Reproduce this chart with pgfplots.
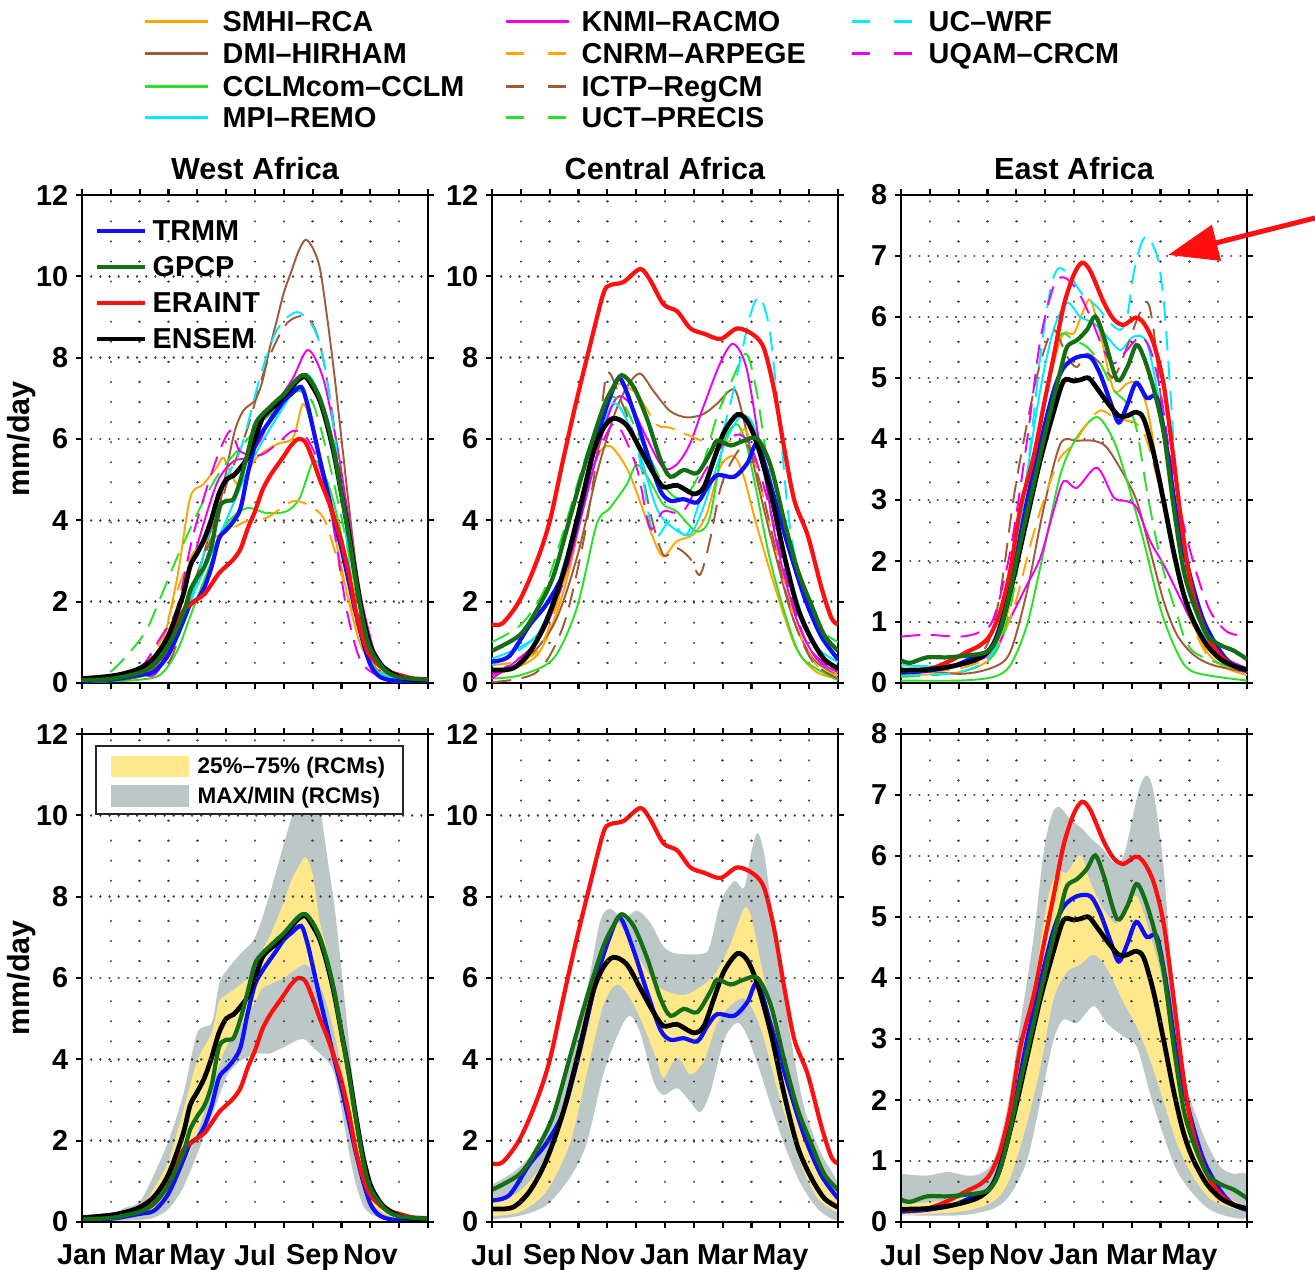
\documentclass[border=0pt]{standalone}
\usepackage{fontspec}
\setmainfont{Liberation Sans}
\usepackage{pgfplots}
\pgfplotsset{compat=1.18}
\usepackage{pgfplotstable}
\usetikzlibrary{arrows.meta}

\definecolor{cOrange}{RGB}{255,165,0}
\definecolor{cBrown}{RGB}{160,90,55}
\definecolor{cGreen}{RGB}{40,225,40}
\definecolor{cCyan}{RGB}{0,235,255}
\definecolor{cMagenta}{RGB}{240,0,240}
\definecolor{cBlue}{RGB}{15,15,255}
\definecolor{cDkGreen}{RGB}{20,110,20}
\definecolor{cRed}{RGB}{255,15,15}
\definecolor{cYellow}{RGB}{255,232,140}
\definecolor{cGray}{RGB}{188,200,200}

\newcommand{\tickfont}{\bfseries\fontsize{8.2}{9}\selectfont}
\newcommand{\titlefont}{\bfseries\fontsize{8.7}{10}\selectfont}
\newcommand{\legfont}{\bfseries\fontsize{8.2}{9}\selectfont}
\newcommand{\smallleg}{\bfseries\fontsize{6.4}{7}\selectfont}

\pgfplotsset{
  panel/.style={scale only axis, width=3.46cm, height=4.88cm,
    xmin=0, xmax=12, xtick={0,...,12}, ymin=0,
    tick align=outside, major tick length=0.06cm,
    axis line style={line width=0.7pt},
    every tick/.append style={line width=0.6pt, black},
    grid=major,
    x grid style={black!75, line width=0.7pt, line cap=round, dash pattern=on 0.01pt off 5.7pt},
    y grid style={black!75, line width=0.7pt, line cap=round, dash pattern=on 0.01pt off 2.6pt},
    tick label style={font=\tickfont},
    yticklabel style={xshift=0.045cm},
    xticklabel style={yshift=-0.04cm},
    /pgf/number format/assume math mode=true,
    title style={at={(0.5,1)}, anchor=base, yshift=-0.06cm, font=\titlefont},
    ylabel style={at={(axis description cs:-0.175,0.5)}, anchor=center, font=\titlefont},
  },
  big/.style={ymax=12, ytick={0,2,...,12}},
  small/.style={ymax=8, ytick={0,...,8}},
  toprow/.style={xticklabels={}},
  botW/.style={xticklabels={Jan,,Mar,,May,,Jul,,Sep,,Nov,,}},
  botC/.style={xticklabels={Jul,,Sep,,Nov,,Jan,,Mar,,May,,}},
  mdl/.style={line width=0.55pt, smooth, tension=0.5},
  obs/.style={line width=1.2pt, smooth, tension=0.5},
  dsh/.style={dash pattern=on 5.5pt off 3pt},
  band/.style={draw=none, smooth, tension=0.5, forget plot},
}

% ---------------- observations ----------------
\pgfplotstableread[row sep=\\]{m v\\
0 0.05\\ 1 0.08\\ 2 0.2\\ 2.5 0.28\\ 3 0.7\\ 3.5 1.5\\ 3.75 1.93\\ 4 2.06\\ 4.25 2.36\\ 4.5 2.87\\ 4.75 3.55\\ 5 3.76\\ 5.25 3.97\\ 5.5 4.3\\ 5.75 5.15\\ 6 5.84\\ 6.25 6.17\\ 6.5 6.43\\ 6.75 6.68\\ 7 6.94\\ 7.25 7.1\\ 7.6 7.28\\ 7.8 6.9\\ 8 6.3\\ 8.25 5.5\\ 8.5 4.75\\ 8.75 4.0\\ 9 3.3\\ 9.25 2.5\\ 9.5 1.7\\ 9.75 1.0\\ 10 0.45\\ 10.25 0.2\\ 10.5 0.1\\ 11 0.04\\ 12 0.02\\
}\waTRMM
\pgfplotstableread[row sep=\\]{m v\\
0 0.07\\ 1 0.1\\ 2 0.25\\ 2.5 0.45\\ 3 0.92\\ 3.5 1.68\\ 3.75 2.27\\ 4 2.6\\ 4.25 2.87\\ 4.5 3.38\\ 4.75 4.3\\ 5 4.48\\ 5.25 4.52\\ 5.5 5.0\\ 5.75 5.67\\ 6 6.35\\ 6.25 6.6\\ 6.5 6.77\\ 6.75 6.94\\ 7 7.1\\ 7.5 7.5\\ 7.75 7.57\\ 8 7.36\\ 8.25 7.0\\ 8.5 6.43\\ 8.75 5.67\\ 9 4.65\\ 9.25 3.63\\ 9.5 2.53\\ 9.75 1.5\\ 10 0.83\\ 10.5 0.32\\ 11 0.14\\ 12 0.08\\
}\waGPCP
\pgfplotstableread[row sep=\\]{m v\\
0 0.12\\ 1 0.15\\ 1.5 0.2\\ 2 0.3\\ 2.5 0.45\\ 3 0.92\\ 3.5 1.76\\ 3.75 1.93\\ 4 2.06\\ 4.25 2.19\\ 4.5 2.44\\ 4.75 2.7\\ 5 2.87\\ 5.25 3.04\\ 5.5 3.3\\ 5.75 3.8\\ 6 4.22\\ 6.25 4.73\\ 6.5 5.07\\ 6.75 5.33\\ 7 5.58\\ 7.25 5.84\\ 7.5 6.0\\ 7.75 5.92\\ 8 5.5\\ 8.25 5.0\\ 8.5 4.56\\ 8.75 4.05\\ 9 3.46\\ 9.25 2.7\\ 9.5 1.76\\ 9.75 1.09\\ 10 0.66\\ 10.5 0.32\\ 11 0.2\\ 11.5 0.11\\ 12 0.1\\
}\waERA
\pgfplotstableread[row sep=\\]{m v\\
0 0.1\\ 1 0.17\\ 1.5 0.24\\ 2 0.36\\ 2.5 0.62\\ 3 1.17\\ 3.5 2.15\\ 3.75 2.87\\ 4 3.2\\ 4.25 3.55\\ 4.5 4.05\\ 4.75 4.65\\ 5 5.0\\ 5.25 5.1\\ 5.5 5.3\\ 5.75 5.55\\ 6 6.0\\ 6.25 6.5\\ 6.5 6.7\\ 6.75 6.85\\ 7 7.05\\ 7.25 7.25\\ 7.5 7.45\\ 7.75 7.53\\ 8 7.28\\ 8.25 6.94\\ 8.5 6.35\\ 8.75 5.6\\ 9 4.65\\ 9.25 3.7\\ 9.5 2.6\\ 9.75 1.6\\ 10 0.92\\ 10.25 0.58\\ 10.5 0.36\\ 11 0.15\\ 11.5 0.08\\ 12 0.07\\
}\waENS

\pgfplotstableread[row sep=\\]{m v\\
0 0.53\\ 0.6 0.66\\ 1.3 1.42\\ 1.88 1.93\\ 2.47 2.7\\ 3.05 4.22\\ 3.63 6.0\\ 4.09 7.02\\ 4.44 7.49\\ 4.91 6.68\\ 5.37 5.67\\ 5.84 4.73\\ 6.19 4.48\\ 6.65 4.52\\ 7.12 4.44\\ 7.47 4.82\\ 7.81 5.11\\ 8.4 5.07\\ 8.86 5.41\\ 9.21 5.88\\ 9.67 4.85\\ 10.26 3.4\\ 10.84 2.1\\ 11.42 1.15\\ 12 0.58\\
}\caTRMM
\pgfplotstableread[row sep=\\]{m v\\
0 0.79\\ 0.95 1.17\\ 1.53 1.76\\ 2.12 2.61\\ 2.7 4.05\\ 3.28 5.5\\ 3.86 6.77\\ 4.21 7.28\\ 4.5 7.57\\ 4.91 7.28\\ 5.37 6.51\\ 5.84 5.5\\ 6.19 5.07\\ 6.65 5.24\\ 7.12 5.16\\ 7.58 5.67\\ 7.81 5.96\\ 8.28 5.84\\ 8.74 5.96\\ 9.21 6.0\\ 9.67 5.33\\ 10.14 3.97\\ 10.6 2.78\\ 11.07 1.93\\ 11.53 1.17\\ 12 0.79\\
}\caGPCP
\pgfplotstableread[row sep=\\]{m v\\
0 1.44\\ 0.37 1.47\\ 0.95 2.02\\ 1.53 2.95\\ 2.0 3.97\\ 2.47 5.5\\ 2.93 6.94\\ 3.4 8.3\\ 3.86 9.57\\ 4.09 9.78\\ 4.56 9.86\\ 5.14 10.18\\ 5.49 9.9\\ 5.95 9.31\\ 6.42 9.14\\ 6.88 8.72\\ 7.35 8.59\\ 7.93 8.46\\ 8.51 8.72\\ 9.09 8.55\\ 9.44 8.21\\ 9.79 7.19\\ 10.14 5.75\\ 10.49 4.48\\ 10.95 3.63\\ 11.42 2.36\\ 11.77 1.6\\ 12 1.44\\
}\caERA
\pgfplotstableread[row sep=\\]{m v\\
0 0.32\\ 0.72 0.36\\ 1.3 0.75\\ 1.88 1.51\\ 2.47 2.7\\ 3.05 4.31\\ 3.51 5.67\\ 3.86 6.26\\ 4.21 6.51\\ 4.67 6.34\\ 5.14 5.75\\ 5.6 5.16\\ 5.95 4.82\\ 6.42 4.86\\ 7.0 4.65\\ 7.35 4.82\\ 7.7 5.5\\ 8.05 6.17\\ 8.51 6.6\\ 8.86 6.43\\ 9.21 5.84\\ 9.67 4.65\\ 10.14 3.12\\ 10.6 1.85\\ 11.07 1.09\\ 11.53 0.58\\ 12 0.36\\
}\caENS

\pgfplotstableread[row sep=\\]{m v\\
0 0.17\\ 0.9 0.2\\ 1.83 0.28\\ 2.64 0.45\\ 3.1 0.56\\ 3.45 0.96\\ 3.91 1.85\\ 4.37 2.98\\ 4.83 3.93\\ 5.29 4.78\\ 5.64 5.17\\ 6.1 5.34\\ 6.57 5.34\\ 6.91 5.06\\ 7.26 4.61\\ 7.55 4.27\\ 7.84 4.55\\ 8.16 4.92\\ 8.53 4.67\\ 8.88 4.67\\ 9.23 3.82\\ 9.57 2.7\\ 10.03 1.74\\ 10.5 1.01\\ 11.08 0.51\\ 11.54 0.28\\ 12 0.2\\
}\eaTRMM
\pgfplotstableread[row sep=\\]{m v\\
0 0.37\\ 0.32 0.33\\ 0.9 0.42\\ 1.6 0.42\\ 2.29 0.45\\ 2.98 0.51\\ 3.33 0.73\\ 3.68 1.29\\ 4.14 2.3\\ 4.6 3.26\\ 5.06 4.22\\ 5.53 5.12\\ 5.76 5.51\\ 6.1 5.62\\ 6.45 5.79\\ 6.74 6.01\\ 7.03 5.68\\ 7.49 4.97\\ 7.84 5.17\\ 8.16 5.54\\ 8.42 5.34\\ 8.76 4.83\\ 9.11 4.1\\ 9.46 2.87\\ 9.8 1.85\\ 10.15 1.29\\ 10.61 0.79\\ 11.08 0.62\\ 11.54 0.53\\ 12 0.39\\
}\eaGPCP
\pgfplotstableread[row sep=\\]{m v\\
0 0.2\\ 0.9 0.22\\ 1.6 0.34\\ 2.29 0.51\\ 2.75 0.62\\ 3.1 0.79\\ 3.45 1.18\\ 3.79 1.85\\ 4.14 2.87\\ 4.6 3.71\\ 4.95 4.55\\ 5.29 5.34\\ 5.64 6.18\\ 5.99 6.69\\ 6.28 6.89\\ 6.57 6.75\\ 7.03 6.24\\ 7.38 5.96\\ 7.72 5.87\\ 8.13 5.99\\ 8.42 5.9\\ 8.76 5.57\\ 9.11 4.89\\ 9.46 3.65\\ 9.8 2.36\\ 10.15 1.41\\ 10.61 0.79\\ 11.08 0.45\\ 11.54 0.28\\ 12 0.22\\
}\eaERA
\pgfplotstableread[row sep=\\]{m v\\
0 0.21\\ 0.9 0.22\\ 1.83 0.28\\ 2.64 0.39\\ 3.1 0.56\\ 3.45 0.9\\ 3.91 1.74\\ 4.37 2.7\\ 4.83 3.65\\ 5.29 4.44\\ 5.64 4.95\\ 5.99 4.95\\ 6.22 4.97\\ 6.51 5.0\\ 6.8 4.83\\ 7.14 4.61\\ 7.55 4.38\\ 7.84 4.38\\ 8.16 4.44\\ 8.42 4.33\\ 8.76 3.77\\ 9.11 2.98\\ 9.46 2.14\\ 9.8 1.46\\ 10.15 1.01\\ 10.61 0.62\\ 11.08 0.39\\ 11.54 0.28\\ 12 0.22\\
}\eaENS

\begin{document}
\begin{tikzpicture}
\path[use as bounding box] (0,0) rectangle (13.15,12.70);

% ================= West Africa, models =================
\begin{axis}[panel, big, toprow, at={(0.82cm,5.87cm)}, anchor=south west,
  title={West Africa}, ylabel={mm/day}]
\addplot[mdl, cOrange] coordinates {(0,0.05)(1,0.1)(2,0.3)(2.7,0.77)(3.3,2.58)(3.75,4.55)(4.2,4.88)(4.67,5.3)(4.9,5.54)(5.2,5.1)(5.48,4.88)(6.06,5.54)(6.75,5.87)(7.32,6.03)(7.67,6.86)(8.02,6.2)(8.48,4.7)(9.05,2.66)(9.63,1.0)(10.21,0.35)(11,0.08)(12,0.04)};
\addplot[mdl, cBrown] coordinates {(0,0.02)(1,0.05)(2,0.15)(2.5,0.35)(3,0.7)(3.5,1.5)(4,2.6)(4.4,3.6)(4.75,4.3)(5,5.2)(5.3,6.2)(5.6,6.7)(6,6.95)(6.25,7.4)(6.5,8.2)(6.75,8.9)(7,9.6)(7.25,10.1)(7.5,10.6)(7.75,10.9)(8,10.7)(8.25,10.2)(8.5,9.0)(8.75,7.6)(9,6.0)(9.25,4.4)(9.5,2.9)(9.75,1.8)(10,1.0)(10.5,0.35)(11,0.1)(12,0.03)};
\addplot[mdl, cGreen] coordinates {(0,0.02)(1,0.04)(2,0.08)(2.71,0.2)(3.29,0.77)(3.86,1.84)(4.44,2.9)(5.02,3.9)(5.71,4.3)(6.4,4.18)(7.09,4.22)(7.55,4.55)(8.02,5.45)(8.36,5.2)(8.71,4.5)(9.17,3.07)(9.63,1.42)(10.21,0.35)(11,0.06)(12,0.02)};
\addplot[mdl, cCyan] coordinates {(0,0.04)(1,0.08)(2,0.2)(3,0.8)(4,2.4)(5,4.0)(6,5.6)(7,6.8)(7.8,7.6)(8.5,6.5)(9,4.5)(9.5,2.4)(10,0.9)(10.5,0.3)(11,0.1)(12,0.05)};
\addplot[mdl, cMagenta] coordinates {(0,0.04)(1,0.08)(2,0.2)(2.71,0.4)(3.86,3.07)(4.67,4.9)(5.25,5.45)(5.71,5.54)(6.17,5.95)(6.75,6.86)(7.32,7.5)(7.84,8.19)(8.36,7.5)(8.82,5.95)(9.28,3.9)(9.63,2.25)(10.21,0.6)(10.7,0.2)(11.5,0.06)(12,0.04)};
\addplot[mdl, dsh, cOrange] coordinates {(0,0.04)(1,0.1)(2,0.3)(2.71,1.0)(3.29,2.25)(3.86,3.2)(4.56,3.56)(5.02,3.73)(5.71,3.98)(6.4,4.06)(7.32,4.47)(8.02,4.3)(8.48,3.9)(9.17,2.25)(9.86,0.77)(10.32,0.35)(11,0.1)(12,0.04)};
\addplot[mdl, dsh, cBrown] coordinates {(0,0.03)(1,0.06)(2,0.15)(3,0.5)(3.5,1.5)(4,2.7)(4.67,3.9)(5.02,4.9)(5.71,6.2)(6.4,7.84)(7.09,8.83)(7.79,9.0)(8.25,8.34)(8.71,6.5)(9.17,3.9)(9.63,1.6)(10,0.6)(10.5,0.2)(11,0.08)(12,0.03)};
\addplot[mdl, dsh, cGreen] coordinates {(0,0.05)(0.98,0.27)(2.13,1.18)(2.71,2.08)(3.29,3.07)(4.09,4.3)(4.79,5.2)(5.59,5.87)(6.4,6.53)(7.09,7.0)(7.55,7.18)(8.02,6.86)(8.48,5.7)(9.05,3.9)(9.63,1.84)(10.21,0.6)(10.8,0.2)(11.5,0.08)(12,0.05)};
\addplot[mdl, dsh, cCyan] coordinates {(0,0.04)(1,0.08)(2,0.3)(3,1.0)(3.86,2.25)(4.79,4.7)(5.48,5.7)(6.17,7.5)(6.75,8.67)(7.44,9.12)(8.02,8.75)(8.36,8.0)(8.71,6.4)(9.05,4.3)(9.4,2.25)(9.8,0.9)(10.3,0.3)(11,0.08)(12,0.04)};
\addplot[mdl, dsh, cMagenta] coordinates {(0,0.05)(1,0.1)(2,0.35)(2.71,1.1)(3.29,1.84)(3.86,3.65)(4.56,5.3)(5.13,6.2)(5.48,5.7)(6.17,5.6)(6.75,5.87)(7.32,6.2)(7.79,6.03)(8.25,5.3)(8.71,3.9)(9.17,1.84)(9.63,0.6)(10.2,0.2)(11,0.07)(12,0.04)};
\addplot[obs, cBlue] table[x=m,y=v]{\waTRMM};
\addplot[obs, cRed] table[x=m,y=v]{\waERA};
\addplot[obs, line width=1.35pt, black] table[x=m,y=v]{\waENS};
\addplot[obs, cDkGreen] table[x=m,y=v]{\waGPCP};
\end{axis}

% ================= Central Africa, models =================
\begin{axis}[panel, big, toprow, at={(4.92cm,5.87cm)}, anchor=south west,
  title={Central Africa}]
\addplot[mdl, cOrange] coordinates {(0,0.19)(1.56,0.68)(2.48,2.25)(3.17,4.3)(3.63,5.54)(4.09,5.83)(4.67,5.29)(5.13,4.47)(5.59,3.56)(5.94,3.11)(6.4,3.48)(6.98,3.65)(7.44,4.14)(7.9,5.29)(8.36,5.58)(8.71,5.13)(9.17,3.9)(9.86,2.25)(10.55,0.85)(11.25,0.27)(12,0.11)};
\addplot[mdl, cBrown] coordinates {(0,0.27)(0.98,0.44)(2.13,1.42)(2.94,3.07)(3.63,5.13)(4.21,6.53)(4.67,7.27)(5.13,7.61)(5.59,7.19)(6.17,6.69)(6.75,6.53)(7.32,6.61)(7.79,6.86)(8.25,7.19)(8.48,7.14)(8.82,6.2)(9.28,4.72)(9.86,3.07)(10.44,1.59)(11.13,0.6)(12,0.19)};
\addplot[mdl, cGreen] coordinates {(0,0.11)(0.98,0.19)(2.13,0.6)(2.94,1.84)(3.63,3.9)(4.09,4.3)(4.67,4.88)(5.02,5.37)(5.48,4.96)(5.94,4.39)(6.4,4.22)(7.09,3.73)(7.55,4.06)(8.02,5.87)(8.48,6.36)(8.82,5.87)(9.17,4.72)(9.63,3.07)(10.21,1.59)(10.78,0.6)(12,0.07)};
\addplot[mdl, cCyan] coordinates {(0,0.6)(1.56,1.18)(2.48,2.82)(3.17,4.72)(3.86,6.36)(4.33,6.86)(5.02,5.87)(5.71,4.3)(6.29,3.81)(6.86,3.65)(7.32,4.3)(8.02,5.79)(8.59,6.53)(9.05,6.36)(9.63,4.88)(10.32,2.66)(11.13,1.01)(12,0.52)};
\addplot[mdl, cMagenta] coordinates {(0,0.11)(1.56,1.01)(2.48,2.49)(3.17,4.3)(3.86,6.2)(4.33,7.02)(4.79,6.86)(5.36,6.03)(5.94,5.29)(6.4,5.37)(6.86,5.87)(7.32,6.77)(7.9,7.84)(8.36,8.34)(8.82,7.76)(9.28,5.87)(9.86,3.48)(10.55,1.59)(11.25,0.6)(12,0.27)};
\addplot[mdl, dsh, cOrange] coordinates {(0,0.44)(1.56,0.77)(2.48,2.49)(3.17,4.72)(3.86,6.77)(4.33,7.35)(5.02,7.1)(5.71,6.36)(6.17,6.28)(6.75,6.11)(7.32,5.95)(7.9,5.87)(8.48,6.03)(8.82,6.2)(9.28,4.96)(9.86,3.23)(10.55,1.42)(11.25,0.44)(12,0.19)};
\addplot[mdl, dsh, cBrown] coordinates {(0,0.02)(1.56,0.27)(2.48,1.42)(3.17,3.48)(3.63,5.54)(3.98,7.6)(4.44,7.0)(5.02,5.87)(5.48,4.22)(5.94,3.15)(6.4,3.32)(6.86,3.07)(7.21,2.66)(7.55,3.48)(7.9,4.72)(8.25,5.37)(8.82,5.87)(9.28,4.96)(9.86,3.23)(10.44,1.59)(11.13,0.52)(12,0.11)};
\addplot[mdl, dsh, cGreen] coordinates {(0,1.01)(0.98,1.42)(1.79,2.25)(2.48,3.73)(3.06,5.13)(3.63,6.36)(4.09,7.02)(4.56,6.86)(5.02,6.2)(5.48,5.54)(5.94,4.88)(6.4,4.55)(6.86,4.72)(7.32,5.37)(7.79,6.53)(8.36,7.51)(8.82,8.09)(9.17,7.19)(9.63,5.13)(10.21,3.48)(10.78,2.25)(11.36,1.34)(12,1.01)};
\addplot[mdl, dsh, cCyan] coordinates {(0,0.44)(1.56,1.18)(2.48,2.9)(3.17,4.72)(3.86,6.53)(4.33,6.86)(5.02,5.87)(5.59,3.65)(6.17,3.98)(6.75,3.65)(7.32,4.72)(8.02,6.2)(8.48,7.51)(8.94,9.0)(9.28,9.49)(9.63,8.67)(9.98,6.36)(10.32,3.9)(10.78,2.25)(11.36,1.18)(12,0.6)};
\addplot[mdl, dsh, cMagenta] coordinates {(0,0.19)(1.56,1.01)(2.48,2.66)(3.17,4.55)(3.86,5.95)(4.33,6.36)(5.02,5.29)(5.48,3.81)(5.94,4.22)(6.63,4.22)(7.32,5.13)(8.02,5.87)(8.59,6.11)(9.05,5.7)(9.63,4.3)(10.32,2.25)(11.01,0.85)(12,0.27)};
\addplot[obs, cBlue] table[x=m,y=v]{\caTRMM};
\addplot[obs, cRed] table[x=m,y=v]{\caERA};
\addplot[obs, line width=1.35pt, black] table[x=m,y=v]{\caENS};
\addplot[obs, cDkGreen] table[x=m,y=v]{\caGPCP};
\end{axis}

% ================= East Africa, models =================
\begin{axis}[panel, small, toprow, at={(9.01cm,5.87cm)}, anchor=south west,
  title={East Africa}]
\addplot[mdl, cOrange] coordinates {(0,0.13)(2.06,0.18)(3.21,0.46)(3.79,1.34)(4.37,2.87)(4.83,4.25)(5.29,5.24)(5.64,5.73)(5.99,5.73)(6.34,6.12)(6.57,6.28)(6.91,5.73)(7.38,4.8)(7.84,4.91)(8.18,4.91)(8.53,4.52)(8.88,3.59)(9.34,2.32)(9.92,1.23)(10.61,0.51)(11.31,0.24)(12,0.13)};
\addplot[mdl, cBrown] coordinates {(0,0.24)(2.06,0.15)(3.21,0.26)(3.79,0.51)(4.37,1.5)(4.95,2.87)(5.53,3.92)(6.1,3.97)(6.68,3.97)(7.14,3.86)(7.72,3.42)(8.18,2.98)(8.65,2.16)(9.11,1.34)(9.57,0.79)(10.15,0.46)(10.84,0.29)(12,0.18)};
\addplot[mdl, cGreen] coordinates {(0,0.04)(2.06,0.04)(3.21,0.1)(3.79,0.29)(4.37,0.95)(4.95,2.16)(5.53,3.42)(6.1,4.03)(6.8,4.36)(7.38,3.97)(7.84,3.31)(8.42,2.32)(8.99,1.23)(9.57,0.51)(10.15,0.18)(12,0.04)};
\addplot[mdl, cCyan] coordinates {(0,0.29)(2.06,0.29)(3.21,0.57)(3.79,1.5)(4.37,3.42)(4.83,4.8)(5.29,5.79)(5.76,6.23)(6.22,6.0)(6.68,5.9)(7.14,5.68)(7.61,5.46)(8.07,5.68)(8.53,5.57)(8.99,4.52)(9.46,3.15)(9.92,2.05)(10.5,1.06)(11.31,0.4)(12,0.24)};
\addplot[mdl, cMagenta] coordinates {(0,0.18)(2.06,0.29)(3.21,0.51)(3.79,1.06)(4.37,1.61)(4.83,2.05)(5.29,2.82)(5.64,3.31)(6.1,3.2)(6.8,3.53)(7.38,3.04)(7.84,2.98)(8.18,2.87)(8.65,2.32)(9.11,1.94)(9.57,1.5)(10.15,0.95)(10.84,0.51)(12,0.24)};
\addplot[mdl, dsh, cOrange] coordinates {(0,0.15)(2.06,0.24)(3.21,0.51)(3.91,1.23)(4.49,2.27)(4.83,2.82)(5.18,3.31)(5.53,3.7)(5.99,3.92)(6.45,4.25)(6.91,4.47)(7.38,4.36)(7.84,4.3)(8.18,4.25)(8.53,3.97)(8.99,3.15)(9.46,2.05)(10.03,1.06)(10.73,0.4)(12,0.18)};
\addplot[mdl, dsh, cBrown] coordinates {(0,0.18)(2.06,0.29)(2.98,0.62)(3.45,1.5)(3.91,3.04)(4.37,4.25)(4.83,5.24)(5.29,5.79)(5.76,5.35)(6.1,5.18)(6.45,5.4)(6.91,5.24)(7.38,5.02)(7.84,5.51)(8.18,5.95)(8.53,6.25)(8.76,5.79)(9.11,4.25)(9.46,2.87)(9.92,1.77)(10.5,0.84)(11.31,0.29)(12,0.18)};
\addplot[mdl, dsh, cGreen] coordinates {(0,0.1)(2.06,0.18)(3.21,0.46)(3.79,1.23)(4.37,2.82)(4.83,4.14)(5.29,5.35)(5.58,5.73)(5.99,5.62)(6.45,5.51)(6.91,5.24)(7.38,4.8)(7.84,4.58)(8.18,4.14)(8.53,3.15)(8.99,2.05)(9.57,1.12)(10.15,0.51)(12,0.18)};
\addplot[mdl, dsh, cCyan] coordinates {(0,0.13)(2.06,0.18)(3.21,0.51)(3.79,1.5)(4.37,3.42)(4.83,5.35)(5.18,6.45)(5.47,6.8)(5.87,6.66)(6.34,6.34)(6.8,6.17)(7.26,5.9)(7.61,5.79)(7.84,6.0)(8.07,6.72)(8.3,7.16)(8.53,7.32)(8.88,7.0)(9.11,6.28)(9.34,4.8)(9.57,3.15)(9.92,1.77)(10.38,0.95)(11.08,0.4)(12,0.18)};
\addplot[mdl, dsh, cMagenta] coordinates {(0,0.76)(0.9,0.79)(2.06,0.76)(2.75,0.84)(3.21,1.06)(3.79,2.16)(4.37,3.97)(4.83,5.62)(5.29,6.5)(5.64,6.65)(6.1,6.45)(6.57,6.0)(7.03,5.46)(7.38,5.24)(7.84,5.46)(8.3,5.68)(8.65,5.46)(8.99,4.8)(9.34,3.7)(9.8,2.6)(10.27,1.77)(10.73,1.17)(11.31,0.84)(12,0.76)};
\addplot[obs, cBlue] table[x=m,y=v]{\eaTRMM};
\addplot[obs, cRed] table[x=m,y=v]{\eaERA};
\addplot[obs, line width=1.35pt, black] table[x=m,y=v]{\eaENS};
\addplot[obs, cDkGreen] table[x=m,y=v]{\eaGPCP};
\end{axis}

% ================= West Africa, spread (max/min, then 25-75 %) =================
\begin{axis}[panel, big, botW, axis on top, at={(0.82cm,0.48cm)}, anchor=south west,
  ylabel={mm/day}]
\addplot[band, fill=cGray] coordinates {(0,0.1)(1,0.2)(1.5,0.35)(2,0.5)(2.5,1.17)(3,2.0)(3.5,3.1)(4,4.65)(4.5,4.9)(4.75,5.84)(5,6.17)(5.5,6.6)(6,7.0)(6.5,8.04)(7,9.3)(7.25,9.9)(7.5,10.5)(7.75,10.9)(8,10.7)(8.25,10.2)(8.5,9.0)(8.75,7.8)(9,6.2)(9.25,4.5)(9.5,2.8)(9.75,1.8)(10,1.0)(10.5,0.35)(11,0.15)(12,0.1)
 (12,0.01)(11,0.02)(10.5,0.07)(10,0.2)(9.75,0.41)(9.5,0.92)(9.25,1.76)(9,2.78)(8.75,3.63)(8.5,3.97)(8,4.3)(7.75,4.48)(7.5,4.48)(7,4.3)(6.75,4.22)(6.5,4.14)(6,4.14)(5.75,4.05)(5.5,3.97)(5.25,3.8)(5,3.55)(4.5,2.6)(4,1.68)(3.5,0.83)(3,0.32)(2.5,0.11)(2,0.05)(1,0.02)(0,0.0)};
\addplot[band, fill=cYellow] coordinates {(0,0.08)(1,0.15)(2,0.35)(2.5,0.83)(3,1.5)(3.5,2.7)(4,3.97)(4.5,4.65)(4.75,5.41)(5,5.58)(5.5,5.84)(6,6.17)(6.25,6.68)(6.5,7.0)(7,7.87)(7.25,8.38)(7.5,8.72)(7.75,8.97)(8,8.55)(8.25,7.36)(8.5,6.68)(8.75,5.75)(9,4.65)(9.25,3.55)(9.5,2.36)(9.75,1.34)(10,0.75)(10.5,0.32)(11,0.12)(12,0.08)
 (12,0.05)(11,0.08)(10.5,0.2)(10,0.49)(9.75,1.0)(9.5,1.76)(9.25,2.78)(9,3.8)(8.75,4.65)(8.5,5.33)(8.25,5.84)(8,6.17)(7.75,6.34)(7.5,6.26)(7,6.0)(6.5,5.84)(6.25,5.75)(6,5.41)(5.5,4.82)(5,4.3)(4.5,3.3)(4,2.19)(3.5,1.34)(3,0.66)(2.5,0.3)(2,0.15)(1,0.06)(0,0.03)};
\addplot[obs, cBlue] table[x=m,y=v]{\waTRMM};
\addplot[obs, cRed] table[x=m,y=v]{\waERA};
\addplot[obs, line width=1.35pt, black] table[x=m,y=v]{\waENS};
\addplot[obs, cDkGreen] table[x=m,y=v]{\waGPCP};
\end{axis}

% ================= Central Africa, spread =================
\begin{axis}[panel, big, botC, axis on top, at={(4.92cm,0.48cm)}, anchor=south west]
\addplot[band, fill=cGray] coordinates {(0,0.92)(0.95,1.34)(1.88,2.19)(2.7,3.97)(3.28,5.67)(3.74,7.36)(4.09,7.7)(4.56,7.45)(5.02,7.66)(5.49,7.36)(5.95,6.77)(6.42,6.6)(7.35,6.6)(7.58,6.85)(7.93,7.87)(8.4,8.38)(8.74,8.21)(8.98,9.06)(9.21,9.57)(9.44,9.06)(9.67,7.87)(10.02,6.17)(10.37,4.48)(10.84,2.78)(11.42,1.68)(12,0.92)
 (12,0.07)(11.3,0.32)(10.6,1.09)(9.91,2.36)(9.33,3.63)(8.86,4.56)(8.51,4.9)(8.05,4.48)(7.58,3.21)(7.23,2.7)(6.88,2.95)(6.42,3.29)(5.95,3.12)(5.6,3.46)(5.14,4.65)(4.79,5.07)(4.44,4.73)(3.86,3.63)(3.28,1.93)(2.7,1.09)(1.88,0.41)(0.95,0.15)(0,0.07)};
\addplot[band, fill=cYellow] coordinates {(0,0.49)(0.95,0.75)(1.88,1.6)(2.7,3.46)(3.28,5.16)(3.86,6.68)(4.33,7.36)(4.79,6.85)(5.37,6.17)(5.84,5.75)(6.65,5.58)(7.35,5.84)(7.81,6.17)(8.28,6.85)(8.74,7.7)(8.98,7.53)(9.33,6.34)(9.79,4.82)(10.37,3.21)(10.95,1.76)(11.53,0.92)(12,0.58)
 (12,0.24)(11.3,0.58)(10.72,1.42)(10.02,2.95)(9.44,4.48)(9.09,5.16)(8.74,5.5)(8.28,5.33)(7.81,4.9)(7.35,3.97)(6.88,3.63)(6.42,4.05)(5.95,3.55)(5.72,3.97)(5.26,4.82)(4.79,5.5)(4.33,5.84)(3.86,5.33)(3.28,3.63)(2.7,1.93)(1.88,0.75)(0.95,0.24)(0,0.15)};
\addplot[obs, cBlue] table[x=m,y=v]{\caTRMM};
\addplot[obs, cRed] table[x=m,y=v]{\caERA};
\addplot[obs, line width=1.35pt, black] table[x=m,y=v]{\caENS};
\addplot[obs, cDkGreen] table[x=m,y=v]{\caGPCP};
\end{axis}

% ================= East Africa, spread =================
\begin{axis}[panel, small, botC, axis on top, at={(9.01cm,0.48cm)}, anchor=south west]
\addplot[band, fill=cGray] coordinates {(0,0.79)(0.9,0.76)(1.6,0.82)(2.29,0.76)(2.75,0.79)(3.21,1.01)(3.68,1.85)(4.14,3.26)(4.6,4.67)(4.95,6.07)(5.24,6.69)(5.5,6.8)(5.87,6.6)(6.28,6.45)(6.57,6.3)(7.03,6.1)(7.38,5.9)(7.72,6.0)(8.07,6.72)(8.3,7.16)(8.53,7.32)(8.76,7.05)(9.11,5.8)(9.46,3.6)(9.8,2.42)(10.15,1.85)(10.61,1.29)(11.08,0.9)(11.54,0.79)(12,0.76)
 (12,0.08)(10.84,0.17)(10.15,0.45)(9.57,0.84)(9.11,1.41)(8.65,2.08)(8.18,2.87)(7.72,3.04)(7.14,3.26)(6.68,3.54)(6.1,3.26)(5.64,3.32)(5.29,2.98)(4.83,1.97)(4.37,1.01)(3.79,0.45)(3.21,0.22)(2.06,0.11)(0,0.11)};
\addplot[band, fill=cYellow] coordinates {(0,0.28)(2.06,0.39)(3.21,0.56)(3.68,1.18)(4.14,2.42)(4.6,3.77)(5.06,5.23)(5.41,5.73)(5.76,5.73)(6.22,6.01)(6.57,5.57)(7.03,5.12)(7.49,4.89)(7.84,5.23)(8.18,5.34)(8.53,4.89)(8.99,4.1)(9.46,2.87)(9.92,1.85)(10.38,1.07)(11.08,0.51)(12,0.22)
 (12,0.17)(10.84,0.34)(10.15,0.73)(9.57,1.29)(9.11,1.97)(8.65,2.64)(8.18,3.2)(7.72,3.6)(7.14,4.16)(6.68,4.38)(6.22,4.22)(5.76,4.1)(5.29,3.65)(4.83,2.53)(4.37,1.63)(3.79,0.73)(3.21,0.34)(2.06,0.17)(0,0.11)};
\addplot[obs, cBlue] table[x=m,y=v]{\eaTRMM};
\addplot[obs, cRed] table[x=m,y=v]{\eaERA};
\addplot[obs, line width=1.35pt, black] table[x=m,y=v]{\eaENS};
\addplot[obs, cDkGreen] table[x=m,y=v]{\eaGPCP};
\end{axis}

% ================= top legend (models) =================
\begin{scope}[line width=0.85pt]
\draw[cOrange]  (1.45,12.48) -- (2.08,12.48);
\draw[cBrown]   (1.45,12.16) -- (2.08,12.16);
\draw[cGreen]   (1.45,11.83) -- (2.08,11.83);
\draw[cCyan]    (1.45,11.52) -- (2.08,11.52);
\draw[cMagenta] (5.06,12.48) -- (5.69,12.48);
\draw[cOrange, dash pattern=on 0.18cm off 0.24cm] (5.06,12.16) -- (5.66,12.16);
\draw[cBrown,  dash pattern=on 0.18cm off 0.24cm] (5.06,11.83) -- (5.66,11.83);
\draw[cGreen,  dash pattern=on 0.18cm off 0.24cm] (5.06,11.52) -- (5.66,11.52);
\draw[cCyan,    dash pattern=on 0.18cm off 0.24cm] (8.52,12.48) -- (9.12,12.48);
\draw[cMagenta, dash pattern=on 0.18cm off 0.24cm] (8.52,12.16) -- (9.12,12.16);
\end{scope}
\begin{scope}[every node/.style={anchor=base west, inner sep=0pt, font=\legfont}]
\node at (2.22,12.38) {SMHI–RCA};
\node at (2.22,12.06) {DMI–HIRHAM};
\node at (2.22,11.73) {CCLMcom–CCLM};
\node at (2.22,11.42) {MPI–REMO};
\node at (5.81,12.38) {KNMI–RACMO};
\node at (5.81,12.06) {CNRM–ARPEGE};
\node at (5.81,11.73) {ICTP–RegCM};
\node at (5.81,11.42) {UCT–PRECIS};
\node at (9.28,12.38) {UC–WRF};
\node at (9.28,12.06) {UQAM–CRCM};
\end{scope}

% ================= observation legend =================
\begin{scope}[line width=1.2pt]
\draw[cBlue]    (0.97,10.39) -- (1.45,10.39);
\draw[cDkGreen] (0.97,10.03) -- (1.45,10.03);
\draw[cRed]     (0.97,9.67) -- (1.45,9.67);
\draw[black]    (0.97,9.31) -- (1.45,9.31);
\end{scope}
\begin{scope}[every node/.style={anchor=base west, inner sep=0pt, font=\legfont}]
\node at (1.52,10.29) {TRMM};
\node at (1.52,9.93) {GPCP};
\node at (1.52,9.57) {ERAINT};
\node at (1.52,9.21) {ENSEM};
\end{scope}

% ================= spread legend =================
\draw[fill=white, draw=black!85, line width=0.6pt] (0.96,4.56) rectangle (4.03,5.24);
\fill[cYellow] (1.11,4.93) rectangle (1.89,5.14);
\fill[cGray]   (1.11,4.63) rectangle (1.89,4.85);
\node[anchor=base west, inner sep=0pt, font=\smallleg] at (1.97,4.965) {25\%–75\% (RCMs)};
\node[anchor=base west, inner sep=0pt, font=\smallleg] at (1.97,4.665) {MAX/MIN (RCMs)};

% ================= arrow =================
\draw[cRed, line width=0.05cm, -{Triangle[length=0.5cm, width=0.36cm]}] (13.15,10.52) -- (11.68,10.15);
\end{tikzpicture}
\end{document}
